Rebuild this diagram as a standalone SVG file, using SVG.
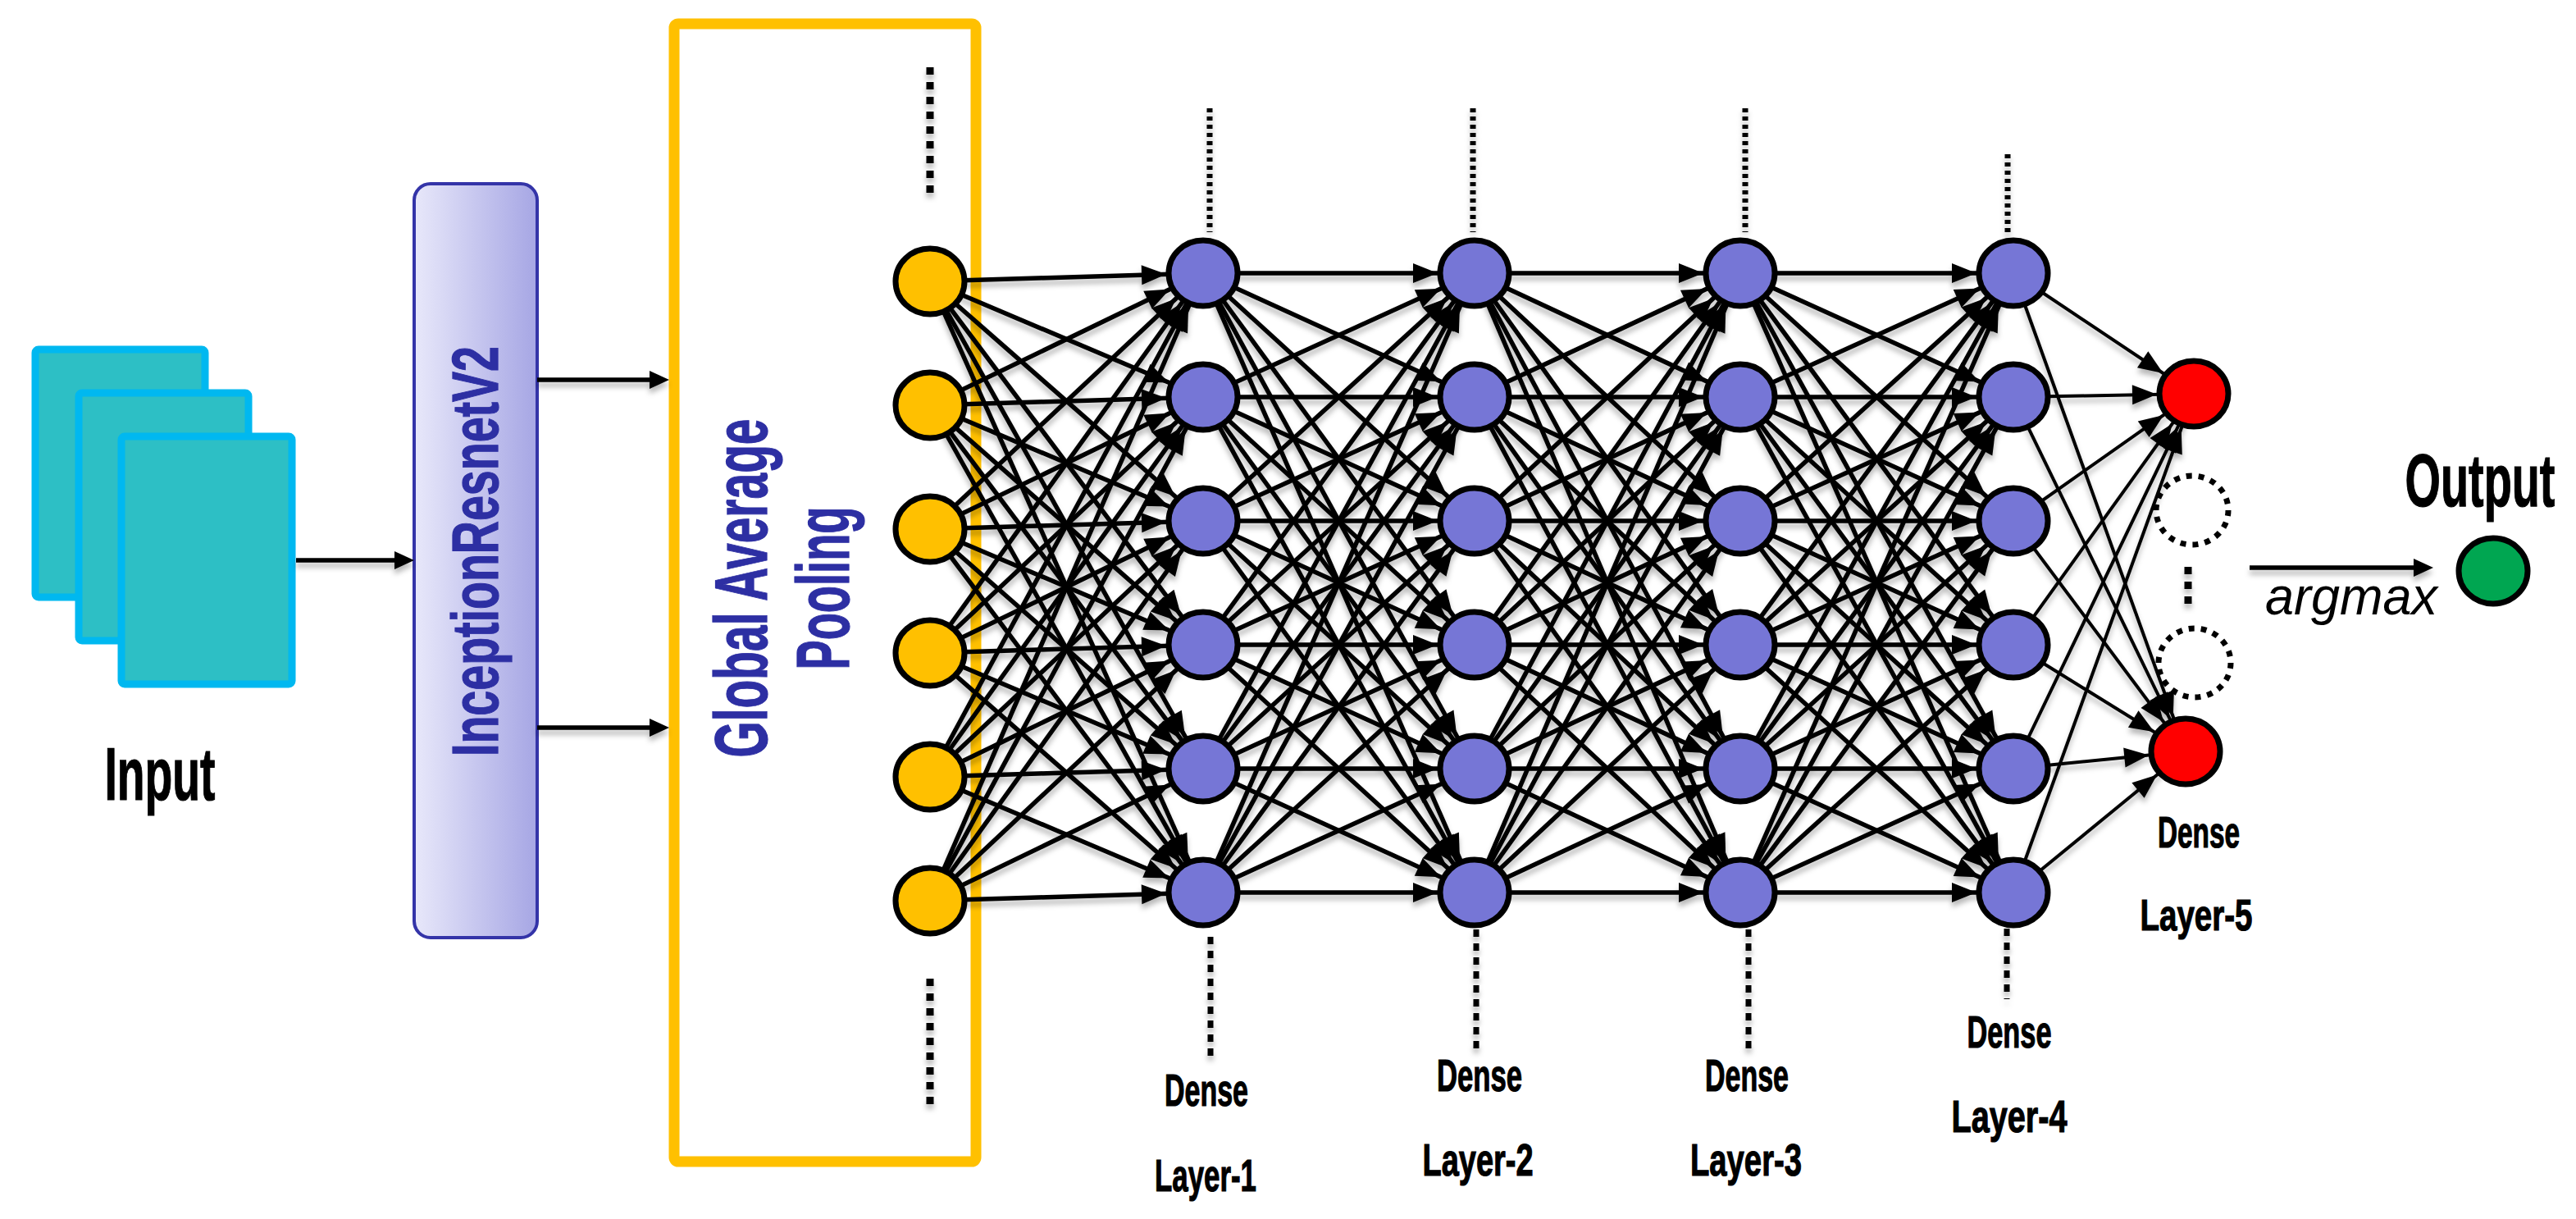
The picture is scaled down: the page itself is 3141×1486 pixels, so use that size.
<svg xmlns="http://www.w3.org/2000/svg" width="3141" height="1486" viewBox="0 0 3141 1486">
<style>
.lbl{font-family:"Liberation Sans Narrow","Liberation Sans",Arial,sans-serif;font-weight:bold;fill:#000;stroke:#000;stroke-width:1.2}
.blue{font-family:"Liberation Sans Narrow","Liberation Sans",Arial,sans-serif;font-weight:bold;fill:#2D2FA3;stroke:#2D2FA3;stroke-width:1.2}
.net path{fill:none;stroke:#000;stroke-width:5.5;marker-end:url(#ah)}
.net .thin path{stroke-width:4}
.arr{fill:none;stroke:#000;stroke-width:5.5;marker-end:url(#ah0)}
.nd{stroke:#000;stroke-width:7}
.yl{fill:#FFC000}
.bl{fill:#7676D6}
.rd{fill:#FF0000}
.gr{fill:#00A651}
.dotY{fill:none;stroke:#000;stroke-width:9;stroke-dasharray:9 9}
.dotT{fill:none;stroke:#000;stroke-width:7;stroke-dasharray:5 5}
.dotB{fill:none;stroke:#000;stroke-width:7;stroke-dasharray:9 8}
.dc{fill:none;stroke:#000;stroke-width:7;stroke-dasharray:7 8}
.sq{fill:#2DBFC5;stroke:#00B8F0;stroke-width:9}
</style>
<defs>
<marker id="ah" markerUnits="userSpaceOnUse" markerWidth="34" markerHeight="26" refX="45" refY="0" orient="auto" overflow="visible">
<path d="M-30,-12L0,0L-30,12Z" fill="#000"/>
</marker>
<marker id="ah0" markerUnits="userSpaceOnUse" markerWidth="30" markerHeight="24" refX="-12" refY="0" orient="auto" overflow="visible">
<path d="M-24,-11L0,0L-24,11Z" fill="#000"/>
</marker>
<linearGradient id="incg" x1="0" y1="0" x2="1" y2="0">
<stop offset="0" stop-color="#E8E8FA"/>
<stop offset="1" stop-color="#A6A6E4"/>
</linearGradient>
<filter id="sh" x="-5%" y="-5%" width="110%" height="115%">
<feDropShadow dx="0" dy="6" stdDeviation="3" flood-color="#000" flood-opacity="0.28"/>
</filter>
</defs>
<rect width="3141" height="1486" fill="#fff"/>

<g id="input">
<rect class="sq" x="43" y="426" width="207" height="302" rx="4"/>
<rect class="sq" x="96" y="479" width="207" height="302" rx="4"/>
<rect class="sq" x="148" y="532" width="208" height="302" rx="4"/>
<text class="lbl" x="195" y="975" font-size="90" text-anchor="middle" textLength="135" lengthAdjust="spacingAndGlyphs">Input</text>
</g>

<g id="inception">
<rect x="505" y="224" width="150" height="919" rx="20" fill="url(#incg)" stroke="#3434A8" stroke-width="4"/>
<text class="blue" transform="translate(607,672) rotate(-90)" font-size="80" text-anchor="middle" textLength="500" lengthAdjust="spacingAndGlyphs">InceptionResnetV2</text>
</g>

<g id="gap">
<rect x="822" y="29" width="368" height="1387" rx="5" fill="none" stroke="#FFC000" stroke-width="13"/>
<text class="blue" transform="translate(935,717) rotate(-90)" font-size="90" text-anchor="middle" textLength="413" lengthAdjust="spacingAndGlyphs">Global Average</text>
<text class="blue" transform="translate(1035,717) rotate(-90)" font-size="90" text-anchor="middle" textLength="199" lengthAdjust="spacingAndGlyphs">Pooling</text>
</g>

<g id="connectors">
<g filter="url(#sh)">
<path class="arr" d="M361 683H493"/>
<path class="arr" d="M655 463H804"/>
<path class="arr" d="M655 887H804"/>
<path class="arr" d="M2743 692H2955" stroke-width="4.5"/>
</g>
<g class="net" filter="url(#sh)">
<path d="M1134 343L1467 333"/><path d="M1134 343L1467 484"/><path d="M1134 343L1467 635"/><path d="M1134 343L1467 786"/><path d="M1134 343L1467 937"/><path d="M1134 343L1467 1088"/>
<path d="M1134 494L1467 333"/><path d="M1134 494L1467 484"/><path d="M1134 494L1467 635"/><path d="M1134 494L1467 786"/><path d="M1134 494L1467 937"/><path d="M1134 494L1467 1088"/>
<path d="M1134 645L1467 333"/><path d="M1134 645L1467 484"/><path d="M1134 645L1467 635"/><path d="M1134 645L1467 786"/><path d="M1134 645L1467 937"/><path d="M1134 645L1467 1088"/>
<path d="M1134 796L1467 333"/><path d="M1134 796L1467 484"/><path d="M1134 796L1467 635"/><path d="M1134 796L1467 786"/><path d="M1134 796L1467 937"/><path d="M1134 796L1467 1088"/>
<path d="M1134 947L1467 333"/><path d="M1134 947L1467 484"/><path d="M1134 947L1467 635"/><path d="M1134 947L1467 786"/><path d="M1134 947L1467 937"/><path d="M1134 947L1467 1088"/>
<path d="M1134 1098L1467 333"/><path d="M1134 1098L1467 484"/><path d="M1134 1098L1467 635"/><path d="M1134 1098L1467 786"/><path d="M1134 1098L1467 937"/><path d="M1134 1098L1467 1088"/>

<path d="M1467 333L1798 333"/><path d="M1467 333L1798 484"/><path d="M1467 333L1798 635"/><path d="M1467 333L1798 786"/><path d="M1467 333L1798 937"/><path d="M1467 333L1798 1088"/>
<path d="M1467 484L1798 333"/><path d="M1467 484L1798 484"/><path d="M1467 484L1798 635"/><path d="M1467 484L1798 786"/><path d="M1467 484L1798 937"/><path d="M1467 484L1798 1088"/>
<path d="M1467 635L1798 333"/><path d="M1467 635L1798 484"/><path d="M1467 635L1798 635"/><path d="M1467 635L1798 786"/><path d="M1467 635L1798 937"/><path d="M1467 635L1798 1088"/>
<path d="M1467 786L1798 333"/><path d="M1467 786L1798 484"/><path d="M1467 786L1798 635"/><path d="M1467 786L1798 786"/><path d="M1467 786L1798 937"/><path d="M1467 786L1798 1088"/>
<path d="M1467 937L1798 333"/><path d="M1467 937L1798 484"/><path d="M1467 937L1798 635"/><path d="M1467 937L1798 786"/><path d="M1467 937L1798 937"/><path d="M1467 937L1798 1088"/>
<path d="M1467 1088L1798 333"/><path d="M1467 1088L1798 484"/><path d="M1467 1088L1798 635"/><path d="M1467 1088L1798 786"/><path d="M1467 1088L1798 937"/><path d="M1467 1088L1798 1088"/>

<path d="M1798 333L2122 333"/><path d="M1798 333L2122 484"/><path d="M1798 333L2122 635"/><path d="M1798 333L2122 786"/><path d="M1798 333L2122 937"/><path d="M1798 333L2122 1088"/>
<path d="M1798 484L2122 333"/><path d="M1798 484L2122 484"/><path d="M1798 484L2122 635"/><path d="M1798 484L2122 786"/><path d="M1798 484L2122 937"/><path d="M1798 484L2122 1088"/>
<path d="M1798 635L2122 333"/><path d="M1798 635L2122 484"/><path d="M1798 635L2122 635"/><path d="M1798 635L2122 786"/><path d="M1798 635L2122 937"/><path d="M1798 635L2122 1088"/>
<path d="M1798 786L2122 333"/><path d="M1798 786L2122 484"/><path d="M1798 786L2122 635"/><path d="M1798 786L2122 786"/><path d="M1798 786L2122 937"/><path d="M1798 786L2122 1088"/>
<path d="M1798 937L2122 333"/><path d="M1798 937L2122 484"/><path d="M1798 937L2122 635"/><path d="M1798 937L2122 786"/><path d="M1798 937L2122 937"/><path d="M1798 937L2122 1088"/>
<path d="M1798 1088L2122 333"/><path d="M1798 1088L2122 484"/><path d="M1798 1088L2122 635"/><path d="M1798 1088L2122 786"/><path d="M1798 1088L2122 937"/><path d="M1798 1088L2122 1088"/>

<path d="M2122 333L2455 333"/><path d="M2122 333L2455 484"/><path d="M2122 333L2455 635"/><path d="M2122 333L2455 786"/><path d="M2122 333L2455 937"/><path d="M2122 333L2455 1088"/>
<path d="M2122 484L2455 333"/><path d="M2122 484L2455 484"/><path d="M2122 484L2455 635"/><path d="M2122 484L2455 786"/><path d="M2122 484L2455 937"/><path d="M2122 484L2455 1088"/>
<path d="M2122 635L2455 333"/><path d="M2122 635L2455 484"/><path d="M2122 635L2455 635"/><path d="M2122 635L2455 786"/><path d="M2122 635L2455 937"/><path d="M2122 635L2455 1088"/>
<path d="M2122 786L2455 333"/><path d="M2122 786L2455 484"/><path d="M2122 786L2455 635"/><path d="M2122 786L2455 786"/><path d="M2122 786L2455 937"/><path d="M2122 786L2455 1088"/>
<path d="M2122 937L2455 333"/><path d="M2122 937L2455 484"/><path d="M2122 937L2455 635"/><path d="M2122 937L2455 786"/><path d="M2122 937L2455 937"/><path d="M2122 937L2455 1088"/>
<path d="M2122 1088L2455 333"/><path d="M2122 1088L2455 484"/><path d="M2122 1088L2455 635"/><path d="M2122 1088L2455 786"/><path d="M2122 1088L2455 937"/><path d="M2122 1088L2455 1088"/>

<g class="thin">
<path d="M2455 333L2675 480"/><path d="M2455 484L2675 480"/><path d="M2455 635L2675 480"/><path d="M2455 786L2675 480"/><path d="M2455 937L2675 480"/><path d="M2455 1088L2675 480"/>
<path d="M2455 333L2665 916"/><path d="M2455 484L2665 916"/><path d="M2455 635L2665 916"/><path d="M2455 786L2665 916"/><path d="M2455 937L2665 916"/><path d="M2455 1088L2665 916"/>
</g>
</g>
<g filter="url(#sh)">
<path class="dotY" d="M1134 82V235"/>
<path class="dotY" d="M1134 1193V1346"/>
<path class="dotT" d="M1475 132V283"/>
<path class="dotT" d="M1796 132V283"/>
<path class="dotT" d="M2128 132V283"/>
<path class="dotT" d="M2448 188V283"/>
<path class="dotB" d="M1476 1142V1293"/>
<path class="dotB" d="M1800 1133V1282"/>
<path class="dotB" d="M2132 1133V1282"/>
<path class="dotB" d="M2447 1132V1218"/>
<path class="dotY" d="M2668 691V737"/>
</g>
</g>

<g id="gap-nodes">
<ellipse class="nd yl" cx="1134" cy="343" rx="42" ry="40"/>
<ellipse class="nd yl" cx="1134" cy="494" rx="42" ry="40"/>
<ellipse class="nd yl" cx="1134" cy="645" rx="42" ry="40"/>
<ellipse class="nd yl" cx="1134" cy="796" rx="42" ry="40"/>
<ellipse class="nd yl" cx="1134" cy="947" rx="42" ry="40"/>
<ellipse class="nd yl" cx="1134" cy="1098" rx="42" ry="40"/>
</g>

<g id="dense-1">
<ellipse class="nd bl" cx="1467" cy="333" rx="42" ry="40"/>
<ellipse class="nd bl" cx="1467" cy="484" rx="42" ry="40"/>
<ellipse class="nd bl" cx="1467" cy="635" rx="42" ry="40"/>
<ellipse class="nd bl" cx="1467" cy="786" rx="42" ry="40"/>
<ellipse class="nd bl" cx="1467" cy="937" rx="42" ry="40"/>
<ellipse class="nd bl" cx="1467" cy="1088" rx="42" ry="40"/>
<text class="lbl" x="1471" y="1348" font-size="56" text-anchor="middle" textLength="102" lengthAdjust="spacingAndGlyphs">Dense</text>
<text class="lbl" x="1470" y="1452" font-size="56" text-anchor="middle" textLength="124" lengthAdjust="spacingAndGlyphs">Layer-1</text>
</g>

<g id="dense-2">
<ellipse class="nd bl" cx="1798" cy="333" rx="42" ry="40"/>
<ellipse class="nd bl" cx="1798" cy="484" rx="42" ry="40"/>
<ellipse class="nd bl" cx="1798" cy="635" rx="42" ry="40"/>
<ellipse class="nd bl" cx="1798" cy="786" rx="42" ry="40"/>
<ellipse class="nd bl" cx="1798" cy="937" rx="42" ry="40"/>
<ellipse class="nd bl" cx="1798" cy="1088" rx="42" ry="40"/>
<text class="lbl" x="1804" y="1330" font-size="56" text-anchor="middle" textLength="104" lengthAdjust="spacingAndGlyphs">Dense</text>
<text class="lbl" x="1802" y="1433" font-size="56" text-anchor="middle" textLength="135" lengthAdjust="spacingAndGlyphs">Layer-2</text>
</g>

<g id="dense-3">
<ellipse class="nd bl" cx="2122" cy="333" rx="42" ry="40"/>
<ellipse class="nd bl" cx="2122" cy="484" rx="42" ry="40"/>
<ellipse class="nd bl" cx="2122" cy="635" rx="42" ry="40"/>
<ellipse class="nd bl" cx="2122" cy="786" rx="42" ry="40"/>
<ellipse class="nd bl" cx="2122" cy="937" rx="42" ry="40"/>
<ellipse class="nd bl" cx="2122" cy="1088" rx="42" ry="40"/>
<text class="lbl" x="2130" y="1330" font-size="56" text-anchor="middle" textLength="102" lengthAdjust="spacingAndGlyphs">Dense</text>
<text class="lbl" x="2129" y="1433" font-size="56" text-anchor="middle" textLength="136" lengthAdjust="spacingAndGlyphs">Layer-3</text>
</g>

<g id="dense-4">
<ellipse class="nd bl" cx="2455" cy="333" rx="42" ry="40"/>
<ellipse class="nd bl" cx="2455" cy="484" rx="42" ry="40"/>
<ellipse class="nd bl" cx="2455" cy="635" rx="42" ry="40"/>
<ellipse class="nd bl" cx="2455" cy="786" rx="42" ry="40"/>
<ellipse class="nd bl" cx="2455" cy="937" rx="42" ry="40"/>
<ellipse class="nd bl" cx="2455" cy="1088" rx="42" ry="40"/>
<text class="lbl" x="2450" y="1277" font-size="56" text-anchor="middle" textLength="103" lengthAdjust="spacingAndGlyphs">Dense</text>
<text class="lbl" x="2450" y="1380" font-size="56" text-anchor="middle" textLength="141" lengthAdjust="spacingAndGlyphs">Layer-4</text>
</g>

<g id="dense-5">
<ellipse class="nd rd" cx="2675" cy="480" rx="42" ry="40"/>
<ellipse class="dc" cx="2673" cy="622" rx="44" ry="42"/>
<ellipse class="dc" cx="2676" cy="808" rx="44" ry="42"/>
<ellipse class="nd rd" cx="2665" cy="916" rx="42" ry="40"/>
<text class="lbl" x="2681" y="1033" font-size="54" text-anchor="middle" textLength="100" lengthAdjust="spacingAndGlyphs">Dense</text>
<text class="lbl" x="2678" y="1134" font-size="54" text-anchor="middle" textLength="137" lengthAdjust="spacingAndGlyphs">Layer-5</text>
</g>

<g id="argmax-label">
<text x="2762" y="749" font-family="Liberation Sans, Arial, sans-serif" font-style="italic" font-size="64" fill="#000" textLength="210" lengthAdjust="spacingAndGlyphs">argmax</text>
</g>

<g id="output">
<ellipse class="nd gr" cx="3040" cy="696" rx="42" ry="40"/>
<text class="lbl" transform="translate(3024,617) scale(0.62,1)" font-size="90" text-anchor="middle">Output</text>
</g>
</svg>
